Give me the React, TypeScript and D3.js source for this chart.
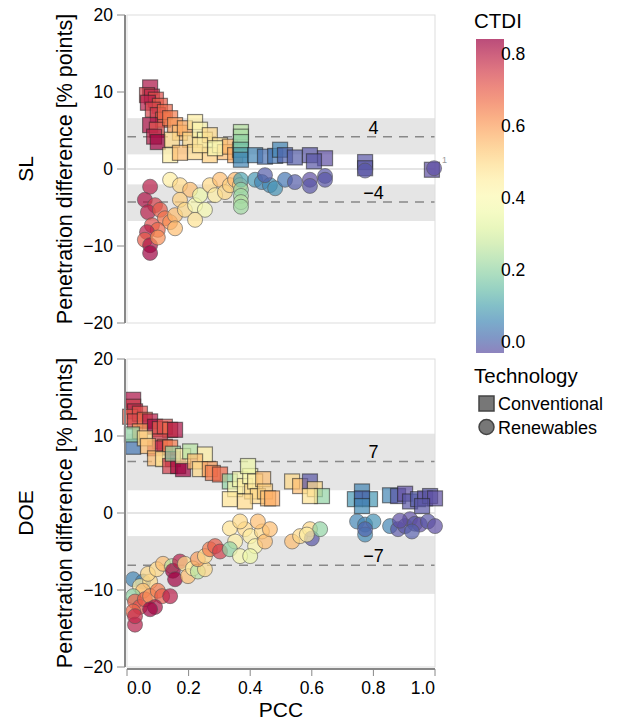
import React from 'react';
import * as d3 from 'd3';

// [PCC, penetration difference, CTDI]
const slConventional: number[][] = [
  [0.075, 10.6, 0.82], [0.065, 9.6, 0.75], [0.081, 9.4, 0.78], [0.094, 9.0, 0.72], [0.068, 8.6, 0.8],
  [0.107, 8.2, 0.7], [0.084, 7.7, 0.74], [0.1, 7.0, 0.76], [0.117, 6.4, 0.7], [0.075, 5.7, 0.82],
  [0.097, 5.1, 0.72], [0.088, 4.2, 0.8], [0.1, 3.5, 0.84], [0.123, 7.4, 0.68], [0.14, 6.6, 0.65],
  [0.156, 5.7, 0.6], [0.172, 4.7, 0.55], [0.146, 3.8, 0.5], [0.188, 5.3, 0.58], [0.221, 6.1, 0.45],
  [0.205, 3.8, 0.5], [0.237, 5.1, 0.42], [0.253, 3.8, 0.38], [0.269, 4.4, 0.5], [0.14, 1.8, 0.45],
  [0.172, 2.1, 0.55], [0.221, 2.2, 0.5], [0.269, 1.8, 0.52], [0.302, 3.1, 0.48], [0.318, 2.2, 0.55],
  [0.334, 2.9, 0.56], [0.351, 1.8, 0.58], [0.367, 2.5, 0.5], [0.286, 2.7, 0.4], [0.237, 3.1, 0.47],
  [0.37, 4.8, 0.25], [0.37, 4.2, 0.23], [0.37, 3.5, 0.2], [0.37, 2.5, 0.15], [0.37, 1.8, 0.1], [0.37, 1.2, 0.05],
  [0.416, 1.8, 0.05], [0.448, 1.6, 0.02], [0.481, 1.7, 0.03], [0.497, 2.5, 0.05], [0.513, 1.8, 0.0],
  [0.545, 1.5, -0.01], [0.594, 1.8, -0.02], [0.643, 1.4, -0.03], [0.607, 1.0, -0.02],
  [0.773, 0.9, -0.02], [0.773, 0.1, -0.02], [0.99, -0.1, -0.03],
];

const slRenewables: number[][] = [
  [0.075, -2.3, 0.8], [0.058, -4.0, 0.82], [0.091, -4.7, 0.75], [0.068, -5.6, 0.8], [0.107, -5.3, 0.7],
  [0.123, -6.4, 0.66], [0.081, -7.3, 0.72], [0.1, -7.9, 0.68], [0.065, -8.2, 0.8], [0.058, -9.2, 0.7],
  [0.075, -9.9, 0.82], [0.075, -10.9, 0.84], [0.1, -8.9, 0.62], [0.14, -6.9, 0.62], [0.156, -6.0, 0.55],
  [0.14, -1.4, 0.45], [0.172, -2.1, 0.5], [0.205, -2.7, 0.55], [0.172, -4.0, 0.52], [0.188, -5.3, 0.5],
  [0.221, -4.7, 0.4], [0.237, -3.4, 0.35], [0.253, -5.3, 0.38], [0.269, -2.1, 0.5], [0.286, -3.4, 0.45],
  [0.302, -1.4, 0.55], [0.318, -3.0, 0.5], [0.334, -2.1, 0.52], [0.351, -1.4, 0.56], [0.367, -2.1, 0.5],
  [0.156, -7.7, 0.55], [0.221, -6.6, 0.48],
  [0.37, -1.4, 0.1], [0.37, -2.7, 0.2], [0.37, -3.5, 0.22], [0.37, -4.3, 0.25], [0.37, -4.9, 0.22],
  [0.416, -1.4, 0.08], [0.438, -1.7, 0.05], [0.464, -2.1, 0.06], [0.481, -2.5, 0.07], [0.448, -0.8, -0.01],
  [0.513, -1.4, 0.03], [0.545, -1.7, -0.01], [0.594, -1.4, -0.03], [0.594, -2.2, -0.02], [0.643, -0.9, -0.02],
  [0.643, -1.4, -0.02], [0.773, -0.2, -0.02], [0.997, 0.1, -0.03],
];

const doeConventional: number[][] = [
  [0.02, 14.7, 0.82], [0.02, 13.8, 0.75], [0.026, 13.2, 0.78], [0.01, 12.5, 0.7], [0.042, 12.9, 0.72],
  [0.026, 11.9, 0.74], [0.058, 12.1, 0.68], [0.075, 11.9, 0.8], [0.091, 11.2, 0.83], [0.107, 10.9, 0.7],
  [0.123, 11.2, 0.72], [0.14, 10.8, 0.68], [0.156, 10.8, 0.82], [0.107, 9.3, 0.75], [0.123, 8.6, 0.7],
  [0.14, 8.5, 0.65], [0.091, 8.4, 0.78], [0.042, 10.6, 0.6], [0.02, 8.6, 0.03], [0.016, 10.2, 0.2],
  [0.058, 9.7, 0.5], [0.068, 8.7, 0.55], [0.091, 7.1, 0.55], [0.117, 7.0, 0.48], [0.149, 7.0, 0.8],
  [0.14, 6.1, 0.75], [0.166, 6.1, 0.82], [0.182, 5.7, 0.85], [0.149, 7.7, 0.2], [0.182, 7.4, 0.45],
  [0.205, 8.0, 0.25], [0.253, 7.6, 0.45], [0.221, 6.7, 0.55], [0.237, 5.7, 0.5], [0.269, 5.7, 0.6],
  [0.279, 5.2, 0.65], [0.302, 5.0, 0.68],
  [0.334, 4.1, 0.2], [0.351, 3.1, 0.4], [0.367, 4.4, 0.38], [0.383, 3.5, 0.45], [0.4, 4.8, 0.4],
  [0.406, 2.8, 0.5], [0.416, 4.1, 0.45], [0.425, 2.2, 0.5], [0.442, 4.4, 0.55], [0.448, 2.8, 0.52],
  [0.458, 1.9, 0.55], [0.334, 1.8, 0.48], [0.383, 1.5, 0.5], [0.393, 6.1, 0.35], [0.471, 1.9, 0.58],
  [0.536, 4.1, 0.5], [0.562, 3.5, 0.55], [0.594, 4.1, -0.02], [0.61, 3.1, 0.5], [0.633, 2.2, 0.2], [0.594, 2.2, 0.48],
  [0.763, 2.8, 0.05], [0.74, 1.8, 0.08], [0.789, 1.8, 0.08], [0.763, 1.9, 0.0], [0.763, 0.9, 0.06],
  [0.854, 2.3, 0.05], [0.88, 2.2, -0.02], [0.903, 2.5, -0.03], [0.919, 1.5, -0.02], [0.945, 1.8, -0.01],
  [0.968, 1.9, -0.03], [0.984, 2.2, -0.02], [1.0, 1.9, -0.03], [0.958, 0.9, -0.02],
];

const doeRenewables: number[][] = [
  [0.02, -8.6, 0.05], [0.052, -8.9, 0.05], [0.042, -9.5, 0.45], [0.075, -8.9, 0.5], [0.052, -10.1, 0.55],
  [0.02, -10.8, 0.2], [0.026, -11.5, 0.7], [0.042, -12.2, 0.72], [0.02, -12.8, 0.68], [0.058, -11.2, 0.7],
  [0.075, -10.8, 0.62], [0.1, -10.1, 0.65], [0.114, -10.8, 0.7], [0.091, -12.2, 0.82], [0.075, -12.5, 0.85],
  [0.14, -10.8, 0.8], [0.026, -14.5, 0.8], [0.026, -13.4, 0.78], [0.068, -7.9, 0.5], [0.097, -7.3, 0.5],
  [0.117, -6.6, 0.55], [0.146, -6.9, 0.25], [0.149, -7.5, 0.85], [0.156, -8.6, 0.85], [0.172, -6.3, 0.8],
  [0.188, -6.6, 0.5], [0.198, -8.2, 0.55], [0.214, -7.2, 0.45], [0.23, -7.6, 0.25], [0.253, -7.3, 0.5],
  [0.23, -6.0, 0.6], [0.253, -5.6, 0.5], [0.269, -4.7, 0.65], [0.286, -4.3, 0.7], [0.302, -5.0, 0.75],
  [0.334, -2.0, 0.48], [0.351, -3.7, 0.45], [0.334, -4.7, 0.2], [0.367, -5.6, 0.4], [0.383, -2.1, 0.5],
  [0.4, -3.0, 0.45], [0.416, -4.3, 0.42], [0.4, -5.6, 0.35], [0.438, -2.4, 0.5], [0.448, -3.7, 0.55],
  [0.464, -2.1, 0.55], [0.425, -1.1, 0.55], [0.367, -1.1, 0.5],
  [0.536, -3.7, 0.55], [0.562, -3.0, 0.5], [0.594, -2.1, 0.5], [0.6, -3.3, -0.02], [0.627, -2.1, 0.2], [0.584, -2.8, 0.45],
  [0.747, -1.1, 0.05], [0.773, -1.5, 0.05], [0.8, -1.1, 0.07], [0.773, -2.8, 0.06], [0.773, -2.1, 0.0],
  [0.854, -1.7, 0.05], [0.88, -2.1, -0.02], [0.903, -1.7, -0.02], [0.919, -0.8, -0.03], [0.935, -1.4, -0.02],
  [0.951, -1.5, -0.03], [0.977, -1.1, -0.02], [1.0, -1.7, -0.03], [0.886, -1.0, -0.03], [0.925, -2.4, -0.01],
];

const panelNames = ['SL', 'DOE'];
const conventional = [slConventional, doeConventional];
const renewables = [slRenewables, doeRenewables];
const meanPos = [4.2, 6.7];
const meanNeg = [-4.3, -6.8];
const bandPos = [[1.9, 6.6], [2.95, 10.3]];
const bandNeg = [[-6.75, -2.0], [-10.5, -3.0]];
const meanLabelsPos = ['4', '7'];
const meanLabelsNeg = ['\u22124', '\u22127'];
const xTicks = [0, 0.2, 0.4, 0.6, 0.8, 1.0];
const yTicks = [-20, -10, 0, 10, 20];
const ctdiTicks = [0, 0.2, 0.4, 0.6, 0.8];
const ctdiDomain = [-0.03, 0.84];
const techNames = ['Conventional', 'Renewables'];

const FONT = '"Liberation Sans", Arial, Helvetica, sans-serif';
const PL = 127, PW = 308, PH = 308;
const panelTops = [15, 359];
const SQ = 15;

const x = d3.scaleLinear().domain([0, 1]).range([PL, PL + PW]);
const color = d3.scaleSequential((t: number) => d3.interpolateSpectral(1 - t)).domain(ctdiDomain as [number, number]);
const fmtY = (d: number) => (d < 0 ? '\u2212' + Math.abs(d) : String(d));

function Panel({ i }: { i: number }) {
  const top = panelTops[i];
  const y = d3.scaleLinear().domain([-20, 20]).range([top + PH, top]);
  const cy = top + PH / 2;
  const isBottom = i === panelNames.length - 1;
  return (
    <g>
      {/* bands */}
      {[bandPos[i], bandNeg[i]].map((b, k) => (
        <rect key={k} x={PL} width={PW} y={y(b[1])} height={y(b[0]) - y(b[1])} fill="#e5e5e5" />
      ))}
      <line x1={PL} x2={PL + PW} y1={y(0)} y2={y(0)} stroke="#dddddd" strokeWidth={1.5} />
      {[meanPos[i], meanNeg[i]].map((m, k) => (
        <line key={k} x1={PL} x2={PL + PW} y1={y(m)} y2={y(m)} stroke="#888" strokeWidth={1.5} strokeDasharray="9,7" />
      ))}
      {/* frame */}
      <rect x={PL} y={top} width={PW} height={PH} fill="none" stroke="#dddddd" strokeWidth={1} />
      {/* points */}
      {conventional[i].map((d, k) => (
        <rect key={'c' + k} x={x(d[0]) - SQ / 2} y={y(d[1]) - SQ / 2} width={SQ} height={SQ}
          fill={color(d[2])} fillOpacity={0.7} stroke="#222" strokeOpacity={0.55} strokeWidth={1.2} />
      ))}
      {renewables[i].map((d, k) => (
        <circle key={'r' + k} cx={x(d[0])} cy={y(d[1])} r={SQ / 2}
          fill={color(d[2])} fillOpacity={0.7} stroke="#555" strokeOpacity={0.6} strokeWidth={1} />
      ))}
      {i === 0 && (
        <text x={x(1) + 7} y={y(0.8)} fontSize={9} fill="#999" fontFamily={FONT}>1</text>
      )}
      {/* mean labels */}
      <text x={x(0.8)} y={y(meanPos[i]) - 3} textAnchor="middle" fontSize={18} fontFamily={FONT} fill="#000">{meanLabelsPos[i]}</text>
      <text x={x(0.8)} y={y(meanNeg[i]) - 3} textAnchor="middle" fontSize={18} fontFamily={FONT} fill="#000">{meanLabelsNeg[i]}</text>
      {/* y axis */}
      <line x1={125} x2={125} y1={top} y2={top + PH} stroke="#888" strokeWidth={2} />
      {yTicks.map(t => (
        <g key={t}>
          <line x1={117} x2={125} y1={y(t)} y2={y(t)} stroke="#888" strokeWidth={1} />
          <text x={113} y={y(t)} dy="0.35em" textAnchor="end" fontSize={17.5} fontFamily={FONT} fill="#000">{fmtY(t)}</text>
        </g>
      ))}
      <text transform={`translate(72,${cy}) rotate(-90)`} textAnchor="middle" fontSize={21.5} fontFamily={FONT} fill="#000">
        Penetration difference [% points]
      </text>
      <text transform={`translate(33,${cy}) rotate(-90)`} textAnchor="middle" fontSize={21} fontFamily={FONT} fill="#000">
        {panelNames[i]}
      </text>
      {isBottom && (
        <g>
          <line x1={PL} x2={PL + PW} y1={top + PH + 2} y2={top + PH + 2} stroke="#888" strokeWidth={2} />
          {xTicks.map((t, k) => (
            <g key={t}>
              <line x1={x(t)} x2={x(t)} y1={top + PH + 2} y2={top + PH + 9} stroke="#888" strokeWidth={1} />
              <text x={x(t)} y={top + PH + 27}
                textAnchor={k === 0 ? 'start' : k === xTicks.length - 1 ? 'end' : 'middle'}
                fontSize={17.5} fontFamily={FONT} fill="#000">{t.toFixed(1)}</text>
            </g>
          ))}
          <text x={PL + PW / 2} y={top + PH + 50} textAnchor="middle" fontSize={21} fontFamily={FONT} fill="#000">PCC</text>
        </g>
      )}
    </g>
  );
}

export default function App() {
  const ly = d3.scaleLinear().domain(ctdiDomain).range([353, 39]);
  const stops = d3.range(0, 1.0001, 0.05);
  return (
    <svg width={619} height={720} style={{ position: 'absolute', left: 0, top: 0, background: '#fff' }}>
      <defs>
        <linearGradient id="ctdi" x1="0" y1="1" x2="0" y2="0">
          {stops.map(s => (
            <stop key={s} offset={s} stopColor={d3.interpolateSpectral(1 - s)} />
          ))}
        </linearGradient>
      </defs>
      {panelNames.map((_, i) => <Panel key={i} i={i} />)}
      {/* color legend */}
      <text x={474} y={28} fontSize={20.5} fontFamily={FONT} fill="#000">CTDI</text>
      <rect x={476} y={ly(ctdiDomain[1])} width={28} height={ly(ctdiDomain[0]) - ly(ctdiDomain[1])} fill="url(#ctdi)" fillOpacity={0.7} />
      {ctdiTicks.map(t => (
        <text key={t} x={501} y={ly(t)} dy="0.35em" fontSize={17.5} fontFamily={FONT} fill="#000">{t.toFixed(1)}</text>
      ))}
      {/* shape legend */}
      <text x={474} y={383} fontSize={20.5} fontFamily={FONT} fill="#000">Technology</text>
      <rect x={479} y={396} width={15} height={15} fill="#777" stroke="#444" strokeWidth={1.5} />
      <text x={498} y={410} fontSize={18} fontFamily={FONT} fill="#000">{techNames[0]}</text>
      <circle cx={486.5} cy={427} r={7.5} fill="#777" stroke="#444" strokeWidth={1.5} />
      <text x={498} y={434} fontSize={18} fontFamily={FONT} fill="#000">{techNames[1]}</text>
    </svg>
  );
}
